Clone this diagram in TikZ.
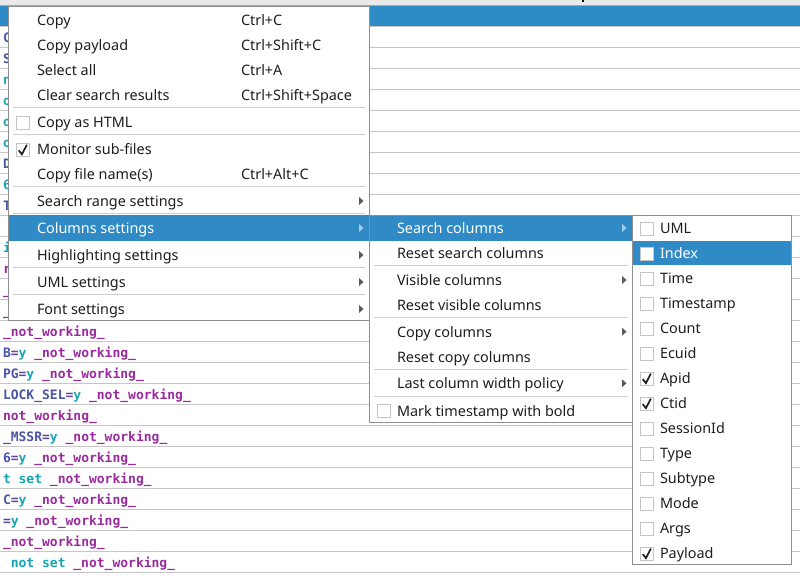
\documentclass[tikz,border=0pt]{standalone}
\usepackage{fontspec}
\setmainfont{Noto Sans}
\newfontfamily\monofont{DejaVu Sans Mono}
\definecolor{headblue}{HTML}{2E8BC6}
\definecolor{selblue}{HTML}{2F8AC6}
\definecolor{topgray}{HTML}{E9E9E9}
\definecolor{headline}{HTML}{A8A8A8}
\definecolor{rowline}{HTML}{C6C6C6}
\definecolor{border}{HTML}{8E8E8E}
\definecolor{sepc}{HTML}{CFCFCF}
\definecolor{txt}{HTML}{1E1E1E}
\definecolor{cboxc}{HTML}{C4C4C4}
\definecolor{arrowc}{HTML}{5A5A5A}
\definecolor{arrowsel}{HTML}{A9CBE6}
\definecolor{codeblue}{HTML}{4A55A8}
\definecolor{codeteal}{HTML}{14A5B5}
\definecolor{codepurp}{HTML}{9A2A9E}
\definecolor{codeeq}{HTML}{5E479C}
\newcommand\mfont{\fontsize{14.4}{17}\selectfont}
\newcommand\cfont{\monofont\bfseries\fontsize{13}{15}\selectfont}
\newcommand\codeB[1]{\textcolor{codeblue}{#1}}
\newcommand\codeT[1]{\textcolor{codeteal}{#1}}
\newcommand\codeP[1]{\textcolor{codepurp}{#1}}
\newcommand\codeE[1]{\textcolor{codeeq}{#1}}
\newcommand\nw{\codeP{\_not\_working\_}}
\tikzset{
  every node/.style={inner sep=0pt, outer sep=0pt},
  codetext/.style={anchor=base west, font=\cfont},
  mitem/.style={anchor=base west, font=\mfont, text=txt},
  mitemsel/.style={anchor=base west, font=\mfont, text=white},
  menubox/.style={fill=white, draw=border, line width=1pt},
  sepline/.style={draw=sepc, line width=1pt},
  rowsep/.style={draw=rowline, line width=1pt},
  cboxst/.style={draw=cboxc, fill=white, line width=0.9pt, minimum size=13pt},
  checkst/.style={draw=txt, line width=1.7pt, line join=miter},
  subarrow/.style={fill=arrowc},
  subarrowsel/.style={fill=arrowsel},
}
\begin{document}
\begin{tikzpicture}[x=1pt,y=-1pt]
\useasboundingbox (0,0) rectangle (800,580);
\fill[white] (0,0) rectangle (800,580);
% header
\fill[topgray] (0,0) rectangle (800,5);
\fill[headblue] (0,5.5) rectangle (800,26);
\draw[headline] (0,5.5) -- (800,5.5);
\fill[black] (582,0) rectangle (584,2);
\foreach \i in {0,...,26} \draw[rowsep] (0,26.5+21*\i) -- (800,26.5+21*\i);
% background log text
\foreach \r/\t in {
  0/{\codeB{C}}, 1/{\codeB{S}}, 2/{\codeT{n}}, 3/{\codeT{o}}, 4/{\codeT{o}},
  5/{\codeT{o}}, 6/{\codeB{D}}, 7/{\codeT{6}}, 8/{\codeB{T}}, 10/{\codeT{i}},
  11/{\codeP{r}}, 12/{\codeP{\_}}, 13/{\codeP{\_}}, 14/{\nw},
  15/{\codeB{B}\codeE{=}\codeT{y} \nw},
  16/{\codeB{PG}\codeE{=}\codeT{y} \nw},
  17/{\codeB{LOCK\_SEL}\codeE{=}\codeT{y} \nw},
  18/{\codeP{not\_working\_}},
  19/{\codeB{\_MSSR}\codeE{=}\codeT{y} \nw},
  20/{\codeB{6}\codeE{=}\codeT{y} \nw},
  21/{\codeT{t set} \nw},
  22/{\codeB{C}\codeE{=}\codeT{y} \nw},
  23/{\codeE{=}\codeT{y} \nw},
  24/{\nw}}
  \node[codetext] (row\r) at (3,42.5+21*\r) {\t};
\node[codetext] (row25) at (10.8,42.5+21*25) {\codeT{not set} \nw};
% ---------- menu 1 ----------
\draw[menubox] (8.5,7) rectangle (369,320);
\fill[selblue] (9,215) rectangle (368.5,240.5);
\foreach \y in {107.5,135,186.5,213.5,267.5,294.5} \draw[sepline] (13,\y) -- (365,\y);
\foreach \y/\t/\s [count=\k] in {20/Copy/Ctrl+C, 45/Copy payload/Ctrl+Shift+C,
  70/Select all/Ctrl+A, 95/Clear search results/Ctrl+Shift+Space,
  174/Copy file name(s)/Ctrl+Alt+C} {
  \node[mitem] (ma\k) at (37,\y+5.3) {\t};
  \node[mitem] (mb\k) at (241,\y+5.3) {\s};
}
\node[mitem] (mhtml) at (37,122+5.3) {Copy as HTML};
\node[cboxst] (cbhtml) at (23,123) {};
\node[mitem] (mmon) at (37,149+5.3) {Monitor sub-files};
\node[cboxst] (cbmon) at (23,150) {};
\draw[checkst] (cbmon.center) ++(-4.3,0.3) -- ++(3.2,4) -- ++(5,-9.5);
\foreach \y/\t [count=\k] in {201/Search range settings, 255/Highlighting settings,
  282/UML settings, 309/Font settings} {
  \node[mitem] (mc\k) at (37,\y+5.3) {\t};
  \fill[subarrow] (359,\y-4) -- (363.5,\y) -- (359,\y+4) -- cycle;
}
\node[mitemsel] (mcol) at (37,228+5.3) {Columns settings};
\fill[subarrowsel] (359,224) -- (363.5,228) -- (359,232) -- cycle;
% ---------- menu 2 ----------
\draw[menubox] (369,215) rectangle (632,422);
\fill[selblue] (369.5,215.5) rectangle (631.5,240.5);
\foreach \y in {265.7,317.3,369.3,396.7} \draw[sepline] (374,\y) -- (628,\y);
\node[mitemsel] (nsc) at (397,228+5.3) {Search columns};
\fill[subarrowsel] (622,224) -- (626.5,228) -- (622,232) -- cycle;
\foreach \y/\t [count=\k] in {252.7/Reset search columns, 305/Reset visible columns,
  356.7/Reset copy columns} {
  \node[mitem] (na\k) at (397,\y+5.3) {\t};
}
\foreach \y/\t [count=\k] in {280/Visible columns, 331.7/Copy columns,
  383.3/Last column width policy} {
  \node[mitem] (nb\k) at (397,\y+5.3) {\t};
  \fill[subarrow] (622,\y-4) -- (626.5,\y) -- (622,\y+4) -- cycle;
}
\node[mitem] (nmark) at (397,410.7+5.3) {Mark timestamp with bold};
\node[cboxst] (cbmark) at (384,411) {};
% ---------- menu 3 ----------
\draw[menubox] (632,215) rectangle (791,564);
\fill[selblue] (632.5,240.5) rectangle (790.5,264.5);
\foreach \t/\c [count=\k from 0] in {UML/0, Index/0, Time/0, Timestamp/0, Count/0,
  Ecuid/0, Apid/1, Ctid/1, SessionId/0, Type/0, Subtype/0, Mode/0, Args/0, Payload/1} {
  \pgfmathsetmacro\yy{228.3+25*\k}
  \node[cboxst] (cc\k) at (647,\yy+0.5) {};
  \ifnum\k=1
    \node[mitemsel] (ct\k) at (660,\yy+5.3) {\t};
  \else
    \node[mitem] (ct\k) at (660,\yy+5.3) {\t};
  \fi
  \ifnum\c=1
    \draw[checkst] (cc\k.center) ++(-4.3,0.3) -- ++(3.2,4) -- ++(5,-9.5);
  \fi
}
\end{tikzpicture}
\end{document}
